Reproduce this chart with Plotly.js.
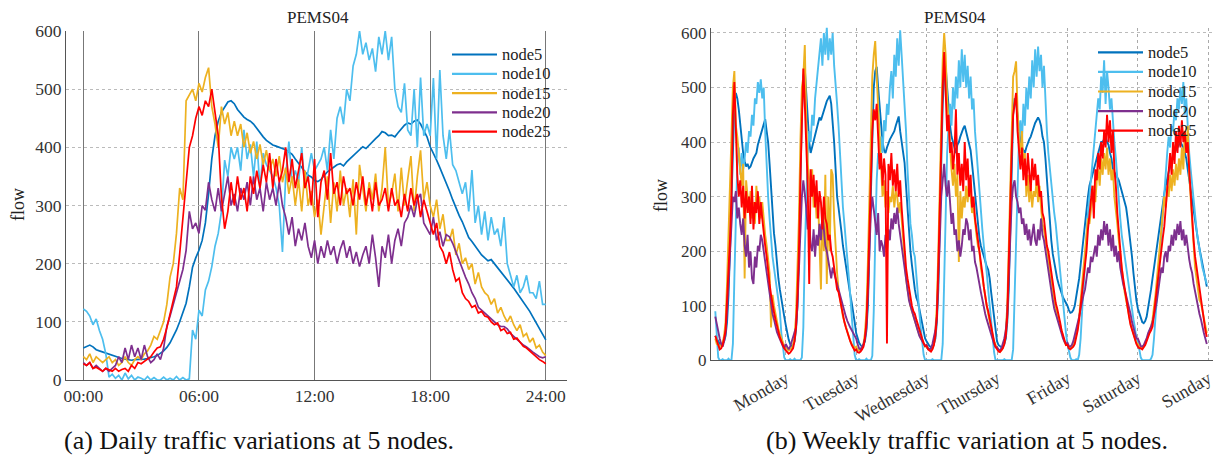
<!DOCTYPE html>
<html>
<head>
<meta charset="utf-8">
<script src="https://cdn.plot.ly/plotly-3.0.1.min.js"></script>
<style>html,body{margin:0;padding:0;background:#fff;}#chart{width:1215px;height:458px;}</style>
</head>
<body>
<div id="chart"></div>
<script>
// ---------- categories / labels ----------
const seriesNames = ['node5','node10','node15','node20','node25'];
const seriesColors = ['#0072BD','#4DBEEE','#EDB120','#7E2F8E','#FF0000'];
const dailyTickVals = [0,6,12,18,24];
const dailyTickText = ['00:00','06:00','12:00','18:00','24:00'];
const weekTickVals = [1,2,3,4,5,6,7];
const weekTickText = ['Monday','Tuesday','Wednesday','Thursday','Friday','Saturday','Sunday'];
const flowTicks = [0,100,200,300,400,500,600];

// ---------- daily series (10-minute samples, 00:00 .. 24:00) ----------
const day_node5 = [
55,58,60,57,52,50, 48,46,44,42,40,38, 37,36,35,34,35,35, 35,36,37,38,40,42,
46,50,56,64,75,86, 100,115,132,160,194,210, 223,240,270,320,380,420, 445,460,470,478,480,475,
465,458,452,448,445,440, 432,425,418,412,408,404, 402,400,398,396,392,388, 380,372,365,358,352,349,
343,341,345,352,358,362, 366,370,372,368,375,380, 385,390,396,401,398,404, 410,415,420,427,425,420,
421,418,425,432,438,442, 440,445,447,440,430,418, 401,390,378,365,352,340, 325,310,295,283,272,260,
245,238,230,222,215,210, 205,207,200,194,188,180, 172,165,158,150,142,135, 126,118,108,98,88,78, 69];
const day_node10 = [
122,118,110,95,105,85, 70,45,5,10,3,8, 0,12,2,8,0,5, 3,0,6,0,4,0,
0,5,0,3,0,6, 0,4,0,2,86,70, 120,110,155,170,195,230, 252,290,378,350,400,380,
400,360,430,380,405,350, 410,330,390,370,360,350, 330,300,220,350,410,340, 360,340,400,330,360,390,
360,370,380,400,360,430, 380,450,470,440,500,480, 540,560,600,560,580,550, 570,530,590,560,600,550,
590,500,470,460,510,430, 420,500,400,520,420,440, 420,519,380,533,420,380, 430,370,360,340,320,340,
290,361,270,300,250,290, 240,280,250,260,230,280, 200,180,160,180,150,160, 180,150,150,140,170,130, 130];
const day_node15 = [
40,35,45,30,40,35, 30,35,40,30,35,25, 30,40,30,25,35,40, 35,45,50,60,75,70,
86,100,130,177,200,252, 330,310,480,490,500,480, 510,495,520,537,470,440, 400,470,440,460,420,445,
420,440,400,425,390,410, 380,405,370,395,360,380, 350,385,340,365,320,350, 300,345,290,360,300,325,
280,310,250,300,350,270, 340,290,360,300,330,280, 345,250,370,330,290,340, 310,355,290,330,400,300,
320,355,290,365,300,345, 385,290,350,395,310,340, 300,280,310,260,285,240, 240,260,215,235,200,210,
190,200,165,185,160,150, 145,130,140,115,125,110, 100,110,95,85,95,75, 80,65,72,55,60,48, 42];
const day_node20 = [
30,25,30,20,25,20, 15,20,15,20,25,40, 30,55,35,60,40,55, 35,60,40,30,35,45,
35,55,92,110,130,150, 172,190,223,290,260,270, 252,300,292,340,310,290, 330,290,320,350,300,320,
290,330,310,340,300,350, 310,330,290,340,310,330, 300,340,300,280,250,280, 230,260,240,270,230,210,
240,200,230,210,240,215, 230,200,225,240,210,230, 200,220,195,215,230,200, 250,210,160,230,210,250,
200,240,260,230,270,280, 300,280,310,320,270,260, 250,280,240,255,230,250, 246,235,220,205,190,177,
165,150,140,125,120,115, 110,105,100,95,92,92, 88,80,75,70,65,60, 57,52,48,44,40,38, 40];
const day_node25 = [
28,25,30,20,22,18, 15,20,18,15,20,15, 18,20,15,25,20,30, 28,32,35,40,48,55,
57,70,90,115,137,160, 217,280,330,400,420,450, 470,455,480,470,500,460, 420,315,260,290,340,300,
350,310,330,290,350,320, 360,330,370,340,390,330, 380,340,360,400,340,380, 330,360,390,330,350,300,
380,280,340,360,310,390, 320,340,300,350,320,330, 300,340,310,350,300,330, 290,340,300,310,330,290,
330,300,310,280,320,290, 330,300,320,280,310,290, 270,250,270,230,220,200, 220,190,170,175,150,140,
135,125,128,115,118,110, 108,100,95,98,85,88, 80,82,70,72,65,58, 55,50,45,40,35,32, 28];

// ---------- weekly series (30-minute samples, Monday 00:00 .. Sunday 23:30) ----------
const week_node5 = [
45,40,35,30,28,30,35,45, 70,120,200,300,400,470,490,480, 460,430,400,380,365,355,360,352,
355,365,370,375,380,395,405,415, 425,435,442,420,400,360,310,270, 233,210,175,150,130,110,95,80,
65,50,38,30,25,28,35,55, 100,200,330,450,520,535,490,440, 400,380,390,400,410,420,430,445,
440,450,460,470,475,480,485,470, 440,400,350,300,280,250,235,210, 190,170,150,135,120,105,90,70,
50,40,32,28,25,28,35,55, 100,200,320,430,500,530,538,500, 460,420,400,385,380,390,400,405,
410,415,420,430,440,447,420,400, 380,362,320,280,230,200,175,150, 130,115,108,95,80,65,50,40,
35,30,26,24,25,30,40,70, 130,250,380,470,520,540,500,460, 430,410,400,390,380,395,400,410,
420,425,430,420,410,400,385,360, 330,300,270,245,225,210,200,190, 180,172,166,150,125,100,75,50,
35,28,25,24,25,30,40,70, 130,250,370,450,480,470,450,420, 400,390,385,380,390,400,405,410,
420,430,435,440,445,440,430,410, 400,370,330,290,250,220,195,178, 160,150,140,130,120,115,110,105,
100,92,87,88,92,100,115,130, 150,175,200,230,260,280,300,320, 330,340,350,360,370,380,390,400,
400,405,410,400,395,380,370,350, 345,340,335,330,320,310,300,290, 280,260,240,215,190,160,130,110,
95,85,75,70,68,72,80,95, 110,130,150,170,190,210,230,250, 270,290,305,320,335,345,355,365,
375,380,385,390,395,400,395,390, 380,370,350,330,310,290,270,250, 235,220,205,190,180,165,150,135];
const week_node10 = [
90,40,5,0,0,2,0,0, 0,3,0,0,30,150,280,360, 390,340,380,350,370,400,380,420,
410,450,430,480,470,510,490,515, 480,500,420,350,300,260,220,190, 170,150,140,120,90,50,25,5,
0,0,0,2,0,0,3,0, 0,0,0,5,60,200,320,380, 420,400,450,430,480,510,540,560,
590,540,600,560,610,550,590,560, 600,540,510,470,430,380,320,280, 250,220,190,150,120,80,40,10,
0,0,2,0,0,0,0,3, 0,0,0,8,90,220,330,380, 360,410,380,440,420,470,450,500,
530,480,560,520,590,540,605,560, 520,480,420,350,300,250,230,200, 190,150,120,90,60,30,10,0,
0,0,0,0,2,0,0,0, 0,0,0,30,150,280,380,430, 470,430,500,460,520,480,550,500,
570,510,560,500,540,480,520,460, 480,420,380,340,300,270,240,210, 190,160,130,100,70,40,15,0,
0,0,0,0,0,2,0,0, 0,0,0,20,120,260,360,410, 440,400,470,430,500,460,520,480,
550,500,570,520,575,530,560,500, 540,470,420,380,350,320,290,270, 250,220,190,160,130,100,70,50,
30,15,5,0,0,0,2,0, 10,40,90,140,190,230,270,300, 330,360,390,420,440,480,460,520,
490,550,470,530,500,460,480,430, 400,370,330,290,260,230,210,190, 170,150,130,110,90,75,60,40,
35,15,5,0,0,0,0,0, 0,3,10,40,80,120,160,200, 240,280,320,350,380,410,390,430,
420,460,440,480,460,500,470,510, 450,480,420,380,350,320,290,260, 240,220,200,180,170,160,150,140];
const week_node15 = [
40,30,28,25,30,32,45,70, 140,220,330,420,500,530,430,410, 380,350,320,360,150,330,300,270,
310,260,290,250,320,280,300,260, 290,250,230,210,180,160,60,120, 100,85,70,58,48,40,32,26,
25,20,18,20,22,28,45,80, 160,260,400,500,520,578,440,360, 330,300,350,280,320,260,300,230,
130,280,200,340,140,300,200,350, 340,260,200,160,130,110,95,80, 70,60,50,42,35,30,25,22,
25,20,18,20,24,30,50,90, 180,300,430,520,560,585,520,470, 400,350,300,330,280,310,270,300,
290,320,280,310,300,270,290,260, 220,180,150,130,110,100,90,80, 70,62,55,48,42,36,30,25,
28,22,20,18,22,30,55,100, 200,330,470,550,600,560,480,430, 400,350,320,360,300,340,180,310,
260,300,280,320,290,330,300,270, 280,250,230,210,200,170,150,130, 115,100,85,70,55,45,35,28,
22,18,16,18,24,35,55,100, 200,330,450,520,530,548,460,400, 380,420,350,380,300,340,290,320,
280,310,300,330,290,320,280,250, 240,220,200,185,165,145,125,110, 95,85,75,62,50,42,34,28,
30,24,22,24,28,35,45,60, 80,110,140,170,200,230,260,250, 280,300,320,290,330,350,320,370,
340,380,350,390,340,370,330,350, 300,280,250,220,190,165,145,125, 110,95,80,68,58,48,40,32,
30,25,22,22,25,30,38,45, 55,62,75,95,120,150,180,210, 240,270,300,280,320,300,340,310,
350,320,360,330,370,340,390,350, 420,380,430,340,300,250,200,170, 150,130,110,105,90,75,60,50];
const week_node20 = [
80,65,50,40,30,25,35,50, 90,140,200,260,300,290,310,260, 280,250,230,260,210,190,230,170,
200,150,140,190,170,210,200,230, 220,200,180,160,140,120,100,85, 75,62,52,45,38,32,26,22,
30,25,20,25,35,45,50,60, 100,170,250,300,330,310,280,240, 260,210,200,240,190,230,210,250,
220,270,230,210,200,180,165,150, 170,160,150,135,125,115,105,95, 88,80,72,65,60,55,50,45,
40,30,22,20,25,30,40,60, 120,200,270,300,280,250,230,270, 200,220,210,190,230,200,240,220,
260,240,270,250,280,250,230,200, 180,160,140,125,110,100,90,80, 70,60,52,45,40,35,30,26,
28,22,20,22,30,40,55,80, 140,220,300,340,360,320,300,330, 280,250,270,230,240,200,220,190,
210,240,230,260,250,220,240,200, 210,180,170,150,140,125,110,95, 85,75,65,55,45,38,30,24,
24,20,18,22,30,40,55,85, 150,230,290,320,330,300,290,270, 280,250,260,230,250,220,240,210,
230,250,220,210,240,220,260,230, 220,200,180,160,140,125,110,95, 85,75,65,55,48,40,34,30,
32,26,25,28,35,45,55,70, 80,95,110,120,130,150,170,160, 190,180,200,210,190,230,210,240,
220,255,230,250,210,240,200,230, 190,210,180,200,170,150,140,130, 120,110,95,85,70,60,50,40,
40,32,26,25,28,34,40,50, 55,62,70,80,95,110,130,150, 170,160,190,200,180,210,200,230,
210,240,220,250,230,255,220,240, 210,230,200,185,170,160,140,125, 110,100,85,75,60,50,40,30];
const week_node25 = [
45,35,25,20,22,28,40,55, 110,160,220,300,450,510,420,340, 300,330,280,320,260,310,270,300,
250,320,240,290,270,310,250,290, 260,230,210,190,160,140,120,100, 88,75,62,52,42,35,28,22,
18,15,12,14,18,22,35,60, 120,200,330,450,535,470,380,320, 140,350,300,340,280,330,260,310,
290,240,300,260,250,220,230,200, 190,170,150,130,125,110,100,85, 70,60,50,42,35,28,22,18,
20,15,14,16,20,25,40,70, 140,250,360,420,460,440,470,390, 350,380,320,370,340,31,360,330,
380,320,350,310,360,300,330,280, 240,200,170,150,130,115,100,90, 85,75,65,55,48,40,32,26,
26,20,18,16,20,28,45,80, 170,300,420,500,565,480,420,450, 380,400,350,380,460,340,380,320,
360,310,400,330,370,300,340,280, 300,260,240,220,210,180,160,135, 115,100,90,75,60,48,35,25,
20,16,15,18,22,30,45,80, 160,280,380,450,470,490,420,380, 350,390,330,370,320,380,340,310,
370,330,360,320,340,300,310,270, 260,230,210,200,180,160,140,120, 105,95,85,70,55,45,35,28,
28,22,20,22,25,30,40,55, 75,100,130,150,170,200,240,270, 290,320,260,350,330,380,350,400,
370,420,390,450,400,440,380,420, 350,320,270,230,200,170,150,130, 115,100,80,65,55,45,38,30,
25,22,22,20,24,28,35,45, 50,55,62,85,110,135,160,180, 200,225,245,280,300,350,380,340,
400,360,420,380,430,390,440,400, 420,380,400,350,300,260,220,190, 170,150,135,115,95,75,55,43];

const dailyData = [day_node5, day_node10, day_node15, day_node20, day_node25];
const weeklyData = [week_node5, week_node10, week_node15, week_node20, week_node25];

// ---------- build traces ----------
const FONT = 'Liberation Serif, Times New Roman, Times, serif';
const W = 1215, H = 458;
const px = v => v / W;
const py = v => 1 - v / H;

const traces = [];
dailyData.forEach((vals, k) => {
  traces.push({
    type: 'scatter', mode: 'lines', name: seriesNames[k], showlegend: false,
    x: vals.map((_, i) => i / 6), y: vals,
    xaxis: 'x', yaxis: 'y',
    line: {color: seriesColors[k], width: 1.7}, hoverinfo: 'skip'
  });
});
weeklyData.forEach((vals, k) => {
  traces.push({
    type: 'scatter', mode: 'lines', name: seriesNames[k], showlegend: false,
    x: vals.map((_, i) => i / 48), y: vals,
    xaxis: 'x2', yaxis: 'y2',
    line: {color: seriesColors[k], width: 1.9}, hoverinfo: 'skip'
  });
});

// ---------- legend keys (line sample + label), one block per panel ----------
const legendBlocks = [
  {lineX0: 452, lineX1: 497, textX: 500, y0: 54.5, step: 19.3},
  {lineX0: 1098, lineX1: 1143, textX: 1146, y0: 52.3, step: 19.6}
];
const shapes = [];
const annotations = [];
legendBlocks.forEach(b => {
  seriesNames.forEach((name, k) => {
    const yy = b.y0 + b.step * k;
    shapes.push({type: 'line', xref: 'paper', yref: 'paper', layer: 'above',
      x0: px(b.lineX0), x1: px(b.lineX1), y0: py(yy), y1: py(yy),
      line: {color: seriesColors[k], width: 2.2}});
    annotations.push({text: name, xref: 'paper', yref: 'paper', x: px(b.textX), y: py(yy),
      xanchor: 'left', yanchor: 'middle', showarrow: false,
      font: {family: FONT, size: 16.5, color: '#222'}});
  });
});

const tickFont = {family: FONT, size: 17.5, color: '#333'};

annotations.push(
  {text: 'PEMS04', x: px(318), y: py(17), xref: 'paper', yref: 'paper', showarrow: false,
   xanchor: 'center', yanchor: 'middle', font: {family: FONT, size: 17, color: '#222'}},
  {text: 'PEMS04', x: px(955), y: py(17), xref: 'paper', yref: 'paper', showarrow: false,
   xanchor: 'center', yanchor: 'middle', font: {family: FONT, size: 17, color: '#222'}},
  {text: 'flow', x: px(18), y: py(205), xref: 'paper', yref: 'paper', showarrow: false, textangle: -90,
   xanchor: 'center', yanchor: 'middle', font: {family: FONT, size: 18, color: '#222'}},
  {text: 'flow', x: px(661), y: py(196), xref: 'paper', yref: 'paper', showarrow: false, textangle: -90,
   xanchor: 'center', yanchor: 'middle', font: {family: FONT, size: 18, color: '#222'}},
  {text: '(a) Daily traffic variations at 5 nodes.', x: px(259), y: py(440), xref: 'paper', yref: 'paper',
   showarrow: false, xanchor: 'center', yanchor: 'middle', font: {family: FONT, size: 26, color: '#111'}},
  {text: '(b) Weekly traffic variation at 5 nodes.', x: px(967), y: py(440), xref: 'paper', yref: 'paper',
   showarrow: false, xanchor: 'center', yanchor: 'middle', font: {family: FONT, size: 26, color: '#111'}}
);

const layout = {
  width: W, height: H,
  margin: {l: 0, r: 0, t: 0, b: 0},
  paper_bgcolor: '#fff', plot_bgcolor: '#fff',
  font: {family: FONT, size: 17, color: '#222'},
  showlegend: false,
  xaxis: {
    domain: [px(66), px(567)], range: [-0.9, 25.1], anchor: 'y',
    tickvals: dailyTickVals, ticktext: dailyTickText, tickfont: tickFont,
    showgrid: true, gridcolor: '#777', gridwidth: 1,
    showline: true, linecolor: '#555', linewidth: 1, zeroline: false, ticks: ''
  },
  yaxis: {
    domain: [py(380), py(31)], range: [0, 600], anchor: 'x',
    tickvals: flowTicks, tickfont: tickFont,
    showgrid: true, gridcolor: '#bbb', griddash: 'dot', gridwidth: 1,
    showline: true, linecolor: '#555', linewidth: 1, zeroline: false, ticks: ''
  },
  xaxis2: {
    domain: [px(711), px(1213)], range: [-0.061, 7.067], anchor: 'y2',
    tickvals: weekTickVals, ticktext: weekTickText, tickangle: -30,
    tickfont: {family: FONT, size: 18, color: '#333'},
    showgrid: true, gridcolor: '#aaa', griddash: 'dot', gridwidth: 1,
    showline: true, linecolor: '#555', linewidth: 1, zeroline: false, ticks: ''
  },
  yaxis2: {
    domain: [py(360.3), py(27.5)], range: [0, 610], anchor: 'x2',
    tickvals: flowTicks, tickfont: {family: FONT, size: 17, color: '#333'},
    showgrid: true, gridcolor: '#bbb', griddash: 'dot', gridwidth: 1,
    showline: true, linecolor: '#555', linewidth: 1, zeroline: false, ticks: ''
  },
  shapes: shapes,
  annotations: annotations
};

Plotly.newPlot('chart', traces, layout, {staticPlot: true, displayModeBar: false});
</script>
</body>
</html>
